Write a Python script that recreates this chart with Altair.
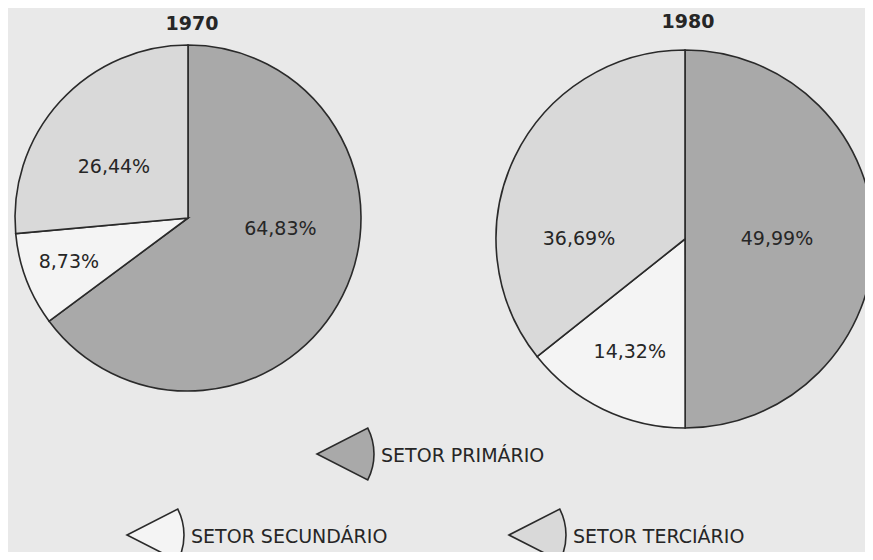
import math
import altair as alt
import pandas as pd

# ---------------- data ----------------
YEARS = ["1970", "1980"]
SECTORS = ["SETOR PRIMÁRIO", "SETOR SECUNDÁRIO", "SETOR TERCIÁRIO"]
SHARE_1970 = [64.83, 8.73, 26.44]
SHARE_1980 = [49.99, 14.32, 36.69]

# ---------------- styles ----------------
FILLS = ["#a9a9a9", "#f4f4f4", "#d9d9d9"]
BG = "#e9e9e9"
STROKE = "#2a2a2a"
INK = "#262626"
FONT = "DejaVu Sans"

# ---------------- layout (pixels inside the chart) ----------------
PIE = {"1970": (180, 210, 173), "1980": (677, 231, 189)}          # cx, cy, r
TITLE_POS = {"1970": (184, 16), "1980": (680, 14)}
# label placement around each pie centre: (angle deg clockwise from 12h, radius)
LABEL_POLAR = {
    "1970": [(96.8, 93), (249.7, 127), (304.6, 90)],
    "1980": [(90.0, 92), (206.0, 126), (270.0, 106)],
}
LEGEND_APEX = {
    "SETOR PRIMÁRIO": (309, 446),
    "SETOR SECUNDÁRIO": (119, 527),
    "SETOR TERCIÁRIO": (501, 527),
}
WEDGE_R = 57
WEDGE_HALF = 27  # degrees
TEXT_GAP = 64

color_scale = alt.Scale(domain=SECTORS, range=FILLS)
theta_scale = alt.Scale(domain=[0, 100], clamp=True)


def fmt(v):
    return f"{v:.2f}".replace(".", ",") + "%"


layers = []
shares_by_year = {"1970": SHARE_1970, "1980": SHARE_1980}

for year in YEARS:
    cx, cy, r = PIE[year]
    shares = shares_by_year[year]
    df = pd.DataFrame({"sector": SECTORS, "share": shares, "k": [0, 1, 2]})
    pie = alt.Chart(df).mark_arc(radius=r, stroke=STROKE, strokeWidth=1.6).encode(
        theta=alt.Theta("share:Q", stack=True, scale=theta_scale),
        order=alt.Order("k:Q"),
        color=alt.Color("sector:N", scale=color_scale, legend=None),
        x=alt.value(cx),
        y=alt.value(cy),
    )
    layers.append(pie)

    # title
    tx, ty = TITLE_POS[year]
    layers.append(
        alt.Chart(pd.DataFrame({"year": [year]})).mark_text(
            font=FONT, fontSize=19, fontWeight="bold", color=INK,
            align="center", baseline="middle",
        ).encode(text="year:N", x=alt.value(tx), y=alt.value(ty))
    )

    # slice labels
    for (ang, rad), sector, v in zip(LABEL_POLAR[year], SECTORS, shares):
        ldf = pd.DataFrame({"sector": [sector], "label": [fmt(v)]})
        layers.append(
            alt.Chart(ldf).mark_text(
                font=FONT, fontSize=19, color=INK, align="center",
                baseline="middle", theta=math.radians(ang), radius=rad,
            ).encode(text="label:N", x=alt.value(cx), y=alt.value(cy))
        )

# legend wedges + texts
for sector in SECTORS:
    ax, ay = LEGEND_APEX[sector]
    sdf = pd.DataFrame({"sector": [sector]})
    layers.append(
        alt.Chart(sdf).mark_arc(radius=WEDGE_R, stroke=STROKE, strokeWidth=1.6).encode(
            theta=alt.value(math.radians(90 - WEDGE_HALF)),
            theta2=alt.value(math.radians(90 + WEDGE_HALF)),
            color=alt.Color("sector:N", scale=color_scale, legend=None),
            x=alt.value(ax),
            y=alt.value(ay),
        )
    )
    layers.append(
        alt.Chart(sdf).mark_text(
            font=FONT, fontSize=19, color=INK, align="left", baseline="middle",
        ).encode(text="sector:N", x=alt.value(ax + TEXT_GAP), y=alt.value(ay + 2))
    )

chart = (
    alt.layer(*layers)
    .properties(width=857, height=544, background=BG, padding=0, autosize="none")
    .configure_view(stroke=None)
)

chart.save("out.html", embed_options={"renderer": "svg", "actions": False})
